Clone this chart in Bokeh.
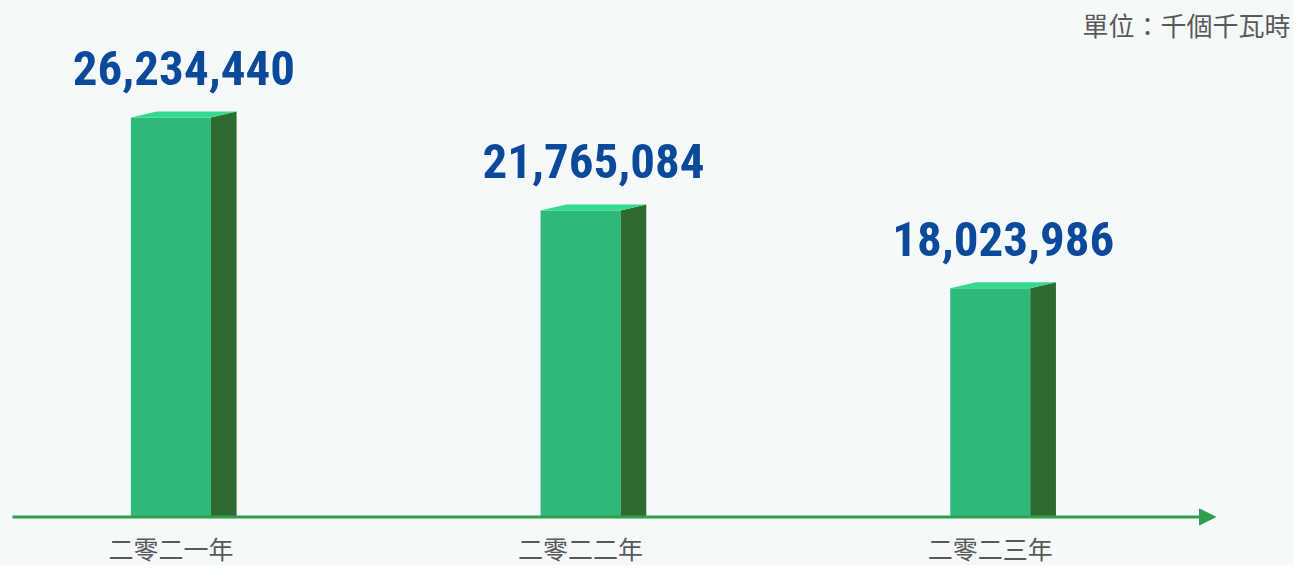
from bokeh.plotting import figure
from bokeh.models import Range1d, ColumnDataSource, Arrow, NormalHead, Label
from bokeh.core.properties import value
from bokeh.embed import file_html
from bokeh.resources import INLINE

# ---- data ----
categories = ["二零二一年", "二零二二年", "二零二三年"]
values = [26234440, 21765084, 18023986]
value_labels = ["26,234,440", "21,765,084", "18,023,986"]
unit_label = "單位：千個千瓦時"

# ---- layout / style ----
W, H = 1293, 565
BASE = 7.03e6
X0, X1 = -0.4159, 2.7402
Y0, Y1 = 4.695e6, 31.859e6
px_x = W / (X1 - X0)
px_y = H / (Y1 - Y0)

FRONT = "#2eb97b"
SIDE = "#2e6b30"
TOP = "#34da90"
AXIS = "#2f9e4f"
BLUE = "#0b4a9b"
GREY = "#595959"
BG = "#f5f9fa"

fh = 40 / px_x        # half front width
sw = 25.7 / px_x      # side width
skew = 6 / px_y       # perspective rise

xs = list(range(len(categories)))

p = figure(width=W, height=H, x_range=Range1d(X0, X1), y_range=Range1d(Y0, Y1),
           output_backend="svg", toolbar_location=None,
           x_axis_location=None, y_axis_location=None, min_border=0,
           min_border_left=0, min_border_right=0, min_border_top=0, min_border_bottom=0)
p.grid.visible = False
p.outline_line_color = None
p.background_fill_color = BG
p.border_fill_color = BG

src = ColumnDataSource(dict(
    x=xs, v=values, lab=value_labels, cat=categories,
    left=[x - fh for x in xs], right=[x + fh for x in xs], bottom=[BASE] * len(xs),
    side_xs=[[x + fh, x + fh + sw, x + fh + sw, x + fh] for x in xs],
    side_ys=[[BASE, BASE, v + skew, v] for v in values],
    top_xs=[[x - fh, x + fh, x + fh + sw, x - fh + sw] for x in xs],
    top_ys=[[v, v, v + skew, v + skew] for v in values],
))

p.quad(left="left", right="right", bottom="bottom", top="v", source=src,
       fill_color=FRONT, line_color=None)
p.patches(xs="side_xs", ys="side_ys", source=src, fill_color=SIDE, line_color=None)
p.patches(xs="top_xs", ys="top_ys", source=src, fill_color=TOP, line_color=None)

# axis arrow
p.add_layout(Arrow(end=NormalHead(size=16, fill_color=AXIS, line_color=AXIS),
                   x_start=X0 + 12 / px_x, y_start=BASE,
                   x_end=X0 + 1215 / px_x, y_end=BASE,
                   line_color=AXIS, line_width=3))

# value labels
p.text(x="x", y="v", text="lab", source=src, x_offset=13, y_offset=-49,
       text_align="center", text_baseline="alphabetic",
       text_font=value("Roboto Condensed, Roboto"), text_font_style="bold",
       text_font_size="49px", text_color=BLUE)

# category labels
p.text(x="x", y="bottom", text="cat", source=src, y_offset=13,
       text_align="center", text_baseline="top",
       text_font=value("Noto Sans CJK TC"), text_font_size="25px", text_color=GREY)

# unit label
p.add_layout(Label(x=W - 3, y=H - 5, x_units="screen", y_units="screen",
                   text=unit_label, text_align="right", text_baseline="top",
                   text_font="Noto Sans CJK TC", text_font_size="26px",
                   text_color=GREY))

open("out.html", "w").write(file_html(p, INLINE))
